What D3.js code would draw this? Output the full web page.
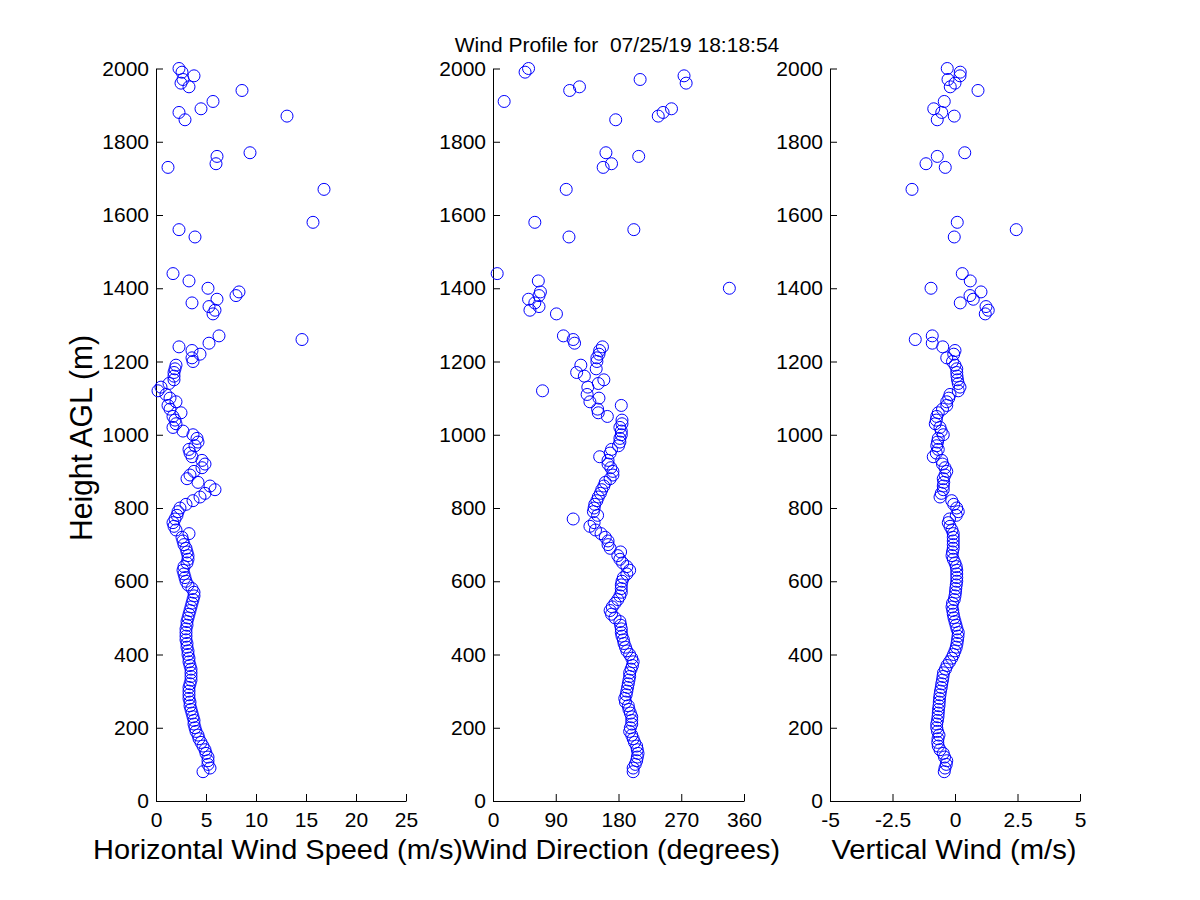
<!DOCTYPE html>
<html>
<head>
<meta charset="utf-8">
<script src="https://cdn.jsdelivr.net/npm/d3@7"></script>
<style>
  body { margin: 0; background: #fff; }
  svg { display: block; }
  text { font-family: "Liberation Sans", Arial, sans-serif; }
</style>
</head>
<body>
<svg id="drawing" width="1200" height="900"></svg>
<script>
// range gates (m AGL), lowest first
const heights = [
   80,  90, 100, 110, 120, 130, 140, 150, 160, 170,
  180, 190, 200, 210, 220, 230, 240, 250, 260, 270,
  280, 290, 300, 310, 320, 330, 340, 350, 360, 370,
  380, 390, 400, 410, 420, 430, 440, 450, 460, 470,
  480, 490, 500, 510, 520, 530, 540, 550, 560, 570,
  580, 590, 600, 610, 620, 630, 640, 650, 660, 670,
  680, 690, 700, 710, 720, 730, 740, 750, 760, 770,
  780, 790, 800, 810, 820, 830, 840, 850, 860, 870,
  880, 890, 900, 910, 920, 930, 940, 950, 960, 970,
  980, 990,1000,1010,1020,1030,1040,1050,1060,1070,
 1080,1090,1100,1110,1120,1130,1140,1150,1160,1170,
 1180,1190,1200,1210,1220,1230,
 1240,1250,1260,1270,1330,1340,1350,1360,1370,1380,
 1390,1400,1420,1440,1540,1560,1580,1670,1730,1740,
 1760,1770,1860,1870,1880,1890,1910,1940,1950,1960,
 1970,1980,1990,2000
];

// horizontal wind speed (m/s)
const speed = [
  4.7, 5.4, 5.2, 5.2, 5.2, 5.0, 4.9, 4.7, 4.5, 4.3,
  4.2, 4.0, 3.9, 3.8, 3.8, 3.7, 3.6, 3.5, 3.4, 3.4,
  3.3, 3.3, 3.3, 3.3, 3.4, 3.5, 3.5, 3.5, 3.5, 3.4,
  3.3, 3.3, 3.2, 3.2, 3.1, 3.1, 3.0, 3.0, 3.0, 3.0,
  3.1, 3.1, 3.2, 3.3, 3.4, 3.5, 3.6, 3.7, 3.8, 3.8,
  3.6, 3.2, 3.0, 2.9, 2.8, 2.7, 2.8, 3.1, 3.2, 3.2,
  3.1, 3.0, 2.8, 2.7, 2.6, 3.3, 2.0, 1.8, 1.7, 1.9,
  2.1, 2.2, 2.4, 3.0, 3.7, 4.4, 4.9, 5.9, 5.4, 4.2,
  3.1, 3.4, 3.8, 4.6, 4.9, 4.6, 3.6, 3.4, 3.3, 3.9,
  4.2, 4.1, 3.7, 2.7, 1.7, 2.0, 1.9, 1.7, 2.5, 1.4,
  1.2, 2.0, 1.4, 1.0, 0.2, 0.5, 1.3, 1.8, 1.8, 1.8,
  1.9, 2.0, 3.7, 3.6, 4.4, 3.6,
  2.3, 5.3,14.6, 6.3, 5.7, 5.9, 5.3, 3.6, 6.1, 8.0,
  8.3, 5.2, 3.3, 1.7, 3.9, 2.3,15.7,16.8, 1.2, 6.0,
  6.1, 9.4, 2.9,13.1, 2.3, 4.5, 5.7, 8.6, 3.3, 2.5,
  2.7, 3.8, 2.6, 2.3
];

// wind direction (degrees)
const direction = [
  201, 201, 204, 206, 207, 208, 207, 206, 203, 201,
  199, 196, 197, 199, 199, 199, 197, 195, 194, 190,
  189, 191, 192, 193, 194, 195, 196, 196, 198, 200,
  201, 199, 196, 192, 190, 188, 187, 185, 184, 184,
  183, 182, 175, 170, 168, 171, 175, 179, 182, 184,
  184, 184, 185, 187, 192, 196, 192, 186, 182, 179,
  183, 168, 165, 165, 161, 155, 147, 139, 145, 115,
  150, 144, 145, 146, 149, 151, 154, 156, 159, 161,
  168, 172, 172, 169, 165, 165, 153, 168, 170, 180,
  182, 182, 184, 184, 182, 185, 185, 164, 151, 150,
  184, 139, 152, 135,  71, 136, 151, 159, 131, 120,
  148, 126, 149, 149, 152, 153,
  157, 117, 115, 101,  91,  53,  66,  60,  51,  66,
   68, 339,  65,   6, 109, 202,  60, 105, 158, 170,
  209, 162, 176, 237, 244, 256,  16, 110, 124, 277,
  211, 274,  46,  51
];

// vertical wind (m/s)
const vertical = [
  -0.43,-0.40,-0.35,-0.33,-0.42,-0.47,-0.60,-0.67,-0.69,-0.68,
  -0.64,-0.70,-0.73,-0.73,-0.70,-0.68,-0.67,-0.66,-0.64,-0.63,
  -0.62,-0.60,-0.58,-0.55,-0.53,-0.50,-0.48,-0.46,-0.38,-0.32,
  -0.22,-0.13,-0.06, 0.00, 0.05, 0.08, 0.10, 0.12, 0.13, 0.08,
   0.04, 0.00,-0.04,-0.07,-0.09,-0.12,-0.10,-0.03, 0.00, 0.02,
   0.03, 0.05, 0.07, 0.07, 0.07, 0.07, 0.05, 0.00,-0.07,-0.12,
  -0.10,-0.07,-0.07,-0.07,-0.07,-0.07,-0.12,-0.20,-0.27,-0.22,
   0.05, 0.13, 0.07,-0.05,-0.13,-0.60,-0.55,-0.47,-0.47,-0.45,
  -0.47,-0.40,-0.33,-0.40,-0.50,-0.53,-0.87,-0.75,-0.67,-0.73,
  -0.70,-0.67,-0.47,-0.55,-0.60,-0.79,-0.75,-0.73,-0.67,-0.50,
  -0.33,-0.33,-0.25,-0.20, 0.13, 0.20, 0.13, 0.10, 0.08, 0.07,
   0.07, 0.00,-0.10,-0.33,-0.05, 0.00,
  -0.49,-0.91,-1.59,-0.91, 1.21, 1.33, 1.24, 0.21, 0.73, 0.60,
   1.04,-0.96, 0.61, 0.29,-0.03, 2.45, 0.09,-1.72,-0.39,-1.16,
  -0.71, 0.39,-0.71,-0.03,-0.53,-0.85,-0.43, 0.92,-0.19, 0.00,
  -0.28, 0.20, 0.21,-0.31
];

const heightTicks = [0, 200, 400, 600, 800, 1000, 1200, 1400, 1600, 1800, 2000];
const speedTicks = [0, 5, 10, 15, 20, 25];
const directionTicks = [0, 90, 180, 270, 360];
const verticalTicks = [-5, -2.5, 0, 2.5, 5];

const titleText = "Wind Profile for  07/25/19 18:18:54";
const yLabel = "Height AGL (m)";
const speedLabel = "Horizontal Wind Speed (m/s)";
const directionLabel = "Wind Direction (degrees)";
const verticalLabel = "Vertical Wind (m/s)";


const svg = d3.select("svg#drawing");
const plotBottom = 801, plotTop = 68.5;

const y = d3.scaleLinear().domain([0, 2000]).range([plotBottom, plotTop]);

const panels = [
   { left: 156, right: 406, domain: [0, 25], ticks: speedTicks, values: speed,
     label: speedLabel, labelX: 278, labelLen: 370 },
   { left: 493, right: 744, domain: [0, 360], ticks: directionTicks, values: direction,
     label: directionLabel, labelX: 621, labelLen: 318 },
   { left: 830, right: 1080, domain: [-5, 5], ticks: verticalTicks, values: vertical,
     label: verticalLabel, labelX: 954, labelLen: 245 }
];

function styleAxis(g) {
   g.select(".domain").attr("stroke", "#000");
   g.selectAll(".tick line").attr("stroke", "#000");
   g.selectAll(".tick text")
      .attr("fill", "#000")
      .style("font-size", "21px")
      .style("font-family", "'Liberation Sans', Arial, sans-serif");
}

panels.forEach(p => {
   const x = d3.scaleLinear().domain(p.domain).range([p.left, p.right]);
   const g = svg.append("g").attr("class", "panel");

   g.append("g")
      .attr("transform", `translate(0,${plotBottom})`)
      .call(d3.axisBottom(x)
         .tickValues(p.ticks)
         .tickSizeInner(-7)
         .tickSizeOuter(0)
         .tickPadding(11)
         .tickFormat(d => String(d)))
      .call(styleAxis);

   g.append("g")
      .attr("transform", `translate(${p.left},0)`)
      .call(d3.axisLeft(y)
         .tickValues(heightTicks)
         .tickSizeInner(-7)
         .tickSizeOuter(0)
         .tickPadding(7)
         .tickFormat(d => String(d)))
      .call(styleAxis);

   const pts = heights.map((h, i) => ({ h, v: p.values[i] }));

   g.selectAll(".pt")
      .data(pts)
      .enter()
      .append("circle")
      .attr("class", "pt")
      .attr("cx", d => x(d.v))
      .attr("cy", d => y(d.h))
      .attr("r", 6)
      .attr("fill", "none")
      .attr("stroke", "#0000ff")
      .attr("stroke-width", 1);

   g.append("text")
      .attr("x", p.labelX)
      .attr("y", 859)
      .attr("text-anchor", "middle")
      .attr("textLength", p.labelLen)
      .attr("lengthAdjust", "spacingAndGlyphs")
      .style("font-size", "27px")
      .text(p.label);
});

svg.append("text")
   .attr("x", 617)
   .attr("y", 52)
   .attr("text-anchor", "middle")
   .style("font-size", "21px")
   .style("white-space", "pre")
   .attr("xml:space", "preserve")
   .text(titleText);

svg.append("text")
   .attr("transform", "translate(92,438) rotate(-90)")
   .attr("text-anchor", "middle")
   .attr("textLength", 206)
   .attr("lengthAdjust", "spacingAndGlyphs")
   .style("font-size", "32px")
   .text(yLabel);
</script>
</body>
</html>
